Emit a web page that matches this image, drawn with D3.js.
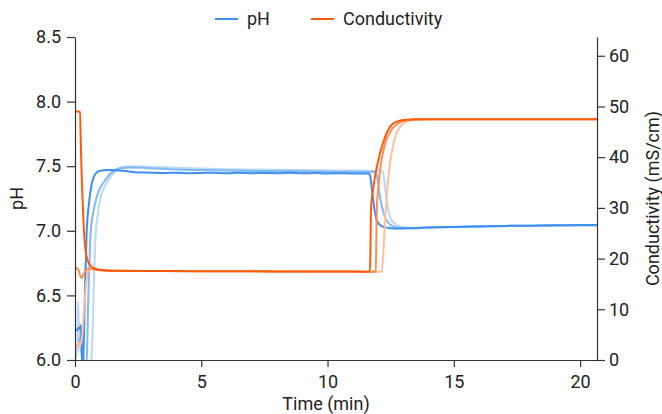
<!DOCTYPE html>
<html>
<head>
<meta charset="utf-8">
<script src="https://cdn.jsdelivr.net/npm/d3@7"></script>
<style>
  html, body { margin: 0; padding: 0; background: #fff; }
  svg { display: block; font-family: Roboto, "Noto Sans", sans-serif; }
</style>
</head>
<body>
<svg id="chart" width="662" height="414"></svg>
<script>
// Tick values for the three axes
const timeTicks = [0, 5, 10, 15, 20];
const phTicks = [6.0, 6.5, 7.0, 7.5, 8.0, 8.5];
const condTicks = [0, 10, 20, 30, 40, 50, 60];

// pH traces, three runs: [time (min), pH]
const phRun1 = [
  [0, 6.24], [0.08, 6.23], [0.14, 6.25], [0.2, 6.24], [0.23, 6.27], [0.26, 6.12], [0.3, 5.9],
  [0.33, 6.0], [0.39, 6.5], [0.46, 6.98], [0.57, 7.24], [0.66, 7.36], [0.75, 7.42], [0.85, 7.45],
  [1.0, 7.465], [1.3, 7.47], [1.6, 7.468], [2.0, 7.462], [2.5, 7.452], [3, 7.45], [3.5, 7.447],
  [4, 7.45], [4.5, 7.446], [5, 7.447], [5.5, 7.45], [6, 7.446], [6.5, 7.449], [7, 7.445], [7.5, 7.448],
  [8, 7.446], [8.5, 7.449], [9, 7.445], [9.5, 7.447], [10, 7.444], [10.5, 7.446], [11, 7.443], [11.6, 7.443],
  [11.68, 7.43], [11.75, 7.33], [11.82, 7.22], [11.88, 7.14], [11.95, 7.08], [12.08, 7.045],
  [12.21, 7.03], [12.5, 7.02], [12.8, 7.018], [13.2, 7.02], [13.7, 7.024], [14.2, 7.028], [15, 7.03],
  [16, 7.034], [17, 7.038], [18, 7.04], [19, 7.042], [20, 7.044], [20.7, 7.044]
];
const phRun2 = [
  [0, 6.08], [0.08, 6.1], [0.14, 6.13], [0.2, 6.17], [0.26, 6.2], [0.3, 6.1], [0.35, 5.9],
  [0.46, 6.0], [0.53, 6.5], [0.62, 6.98], [0.72, 7.14], [0.83, 7.24], [0.97, 7.32], [1.12, 7.37],
  [1.3, 7.42], [1.5, 7.46], [1.78, 7.485], [2.2, 7.49], [2.7, 7.488], [3.2, 7.482], [4, 7.475],
  [5, 7.47], [6, 7.466], [7, 7.463], [8, 7.462], [9, 7.46], [10, 7.458], [11, 7.457], [11.9, 7.456],
  [11.95, 7.43], [12.05, 7.3], [12.15, 7.19], [12.25, 7.12], [12.34, 7.08], [12.5, 7.045],
  [12.67, 7.03], [12.9, 7.022], [13.3, 7.02], [14, 7.024], [15, 7.03], [16, 7.035], [17, 7.038],
  [18, 7.04], [19, 7.042], [20, 7.043], [20.7, 7.043]
];
const phRun3 = [
  [0, 6.0], [0.06, 6.04], [0.1, 6.08], [0.12, 6.45], [0.15, 6.3], [0.18, 6.12], [0.25, 6.05],
  [0.35, 5.95], [0.5, 5.85], [0.6, 5.9], [0.71, 6.3], [0.75, 6.6], [0.82, 6.98], [0.9, 7.12],
  [0.99, 7.24], [1.15, 7.33], [1.31, 7.39], [1.5, 7.44], [1.7, 7.48], [1.9, 7.496], [2.4, 7.5],
  [3, 7.495], [4, 7.488], [5, 7.482], [6, 7.477], [7, 7.474], [8, 7.472], [9, 7.47], [10, 7.468],
  [11, 7.466], [12.15, 7.465], [12.21, 7.44], [12.3, 7.3], [12.38, 7.19], [12.46, 7.12],
  [12.54, 7.08], [12.7, 7.05], [12.94, 7.03], [13.3, 7.022], [14, 7.024], [15, 7.028], [16, 7.032],
  [17, 7.036], [18, 7.038], [19, 7.04], [20, 7.041], [20.7, 7.041]
];

// Conductivity traces, three runs: [time (min), mS/cm]
const condRun1 = [
  [0, 49.0], [0.2, 49.0], [0.22, 44.8], [0.26, 37], [0.3, 31.6], [0.36, 25], [0.46, 20.4],
  [0.56, 19.0], [0.66, 18.4], [0.8, 18.0], [0.99, 17.75], [1.5, 17.6], [3, 17.55], [5, 17.5],
  [7, 17.5], [9, 17.45], [11, 17.45], [11.68, 17.4], [11.7, 22], [11.72, 29.6], [11.8, 33.5],
  [11.88, 36.2], [12.08, 40.8], [12.28, 44.0], [12.54, 46.4], [12.75, 47.0], [12.94, 47.3],
  [13.3, 47.45], [14, 47.5], [16, 47.5], [18, 47.5], [20, 47.5], [20.7, 47.5]
];
const condRun2 = [
  [0, 18.0], [0.08, 18.1], [0.14, 17.7], [0.2, 16.8], [0.26, 16.1], [0.32, 16.6], [0.4, 17.5],
  [0.52, 18.0], [0.7, 17.9], [1.0, 17.7], [1.5, 17.6], [3, 17.55], [5, 17.5], [7, 17.5], [9, 17.45],
  [11, 17.45], [11.91, 17.4], [11.93, 23], [11.95, 29.6], [12.0, 33.5], [12.08, 37.5],
  [12.28, 42.7], [12.54, 45.4], [12.94, 47.0], [13.47, 47.5], [14, 47.5], [16, 47.5], [18, 47.5],
  [20, 47.5], [20.7, 47.5]
];
const condRun3 = [
  [0, 1.5], [0.08, 2.5], [0.14, 3.5], [0.2, 2.8], [0.28, 4.5], [0.36, 10], [0.44, 15],
  [0.52, 17.4], [0.62, 18.0], [0.8, 18.0], [1.1, 17.7], [1.5, 17.6], [3, 17.55], [5, 17.5],
  [7, 17.5], [9, 17.45], [11, 17.45], [12.15, 17.4], [12.2, 20.5], [12.28, 27.6], [12.41, 36.2],
  [12.61, 42.7], [12.94, 46.4], [13.2, 47.1], [13.47, 47.35], [14, 47.5], [16, 47.5], [18, 47.5],
  [20, 47.5], [20.7, 47.5]
];

const phSeries = [
  { data: phRun3, color: "#b9d8fa" },
  { data: phRun2, color: "#80b9f6" },
  { data: phRun1, color: "#3f8ff0" }
];
const condSeries = [
  { data: condRun3, color: "#ffbf9e" },
  { data: condRun2, color: "#ff8c55" },
  { data: condRun1, color: "#ff5a0a" }
];

const svg = d3.select("#chart");
const margin = { left: 75, right: 65, top: 37, bottom: 54 };
const W = 662, H = 414;
const x0 = margin.left, x1 = W - margin.right;
const y0 = H - margin.bottom, y1 = margin.top;
const fontSize = "18px";

const x = d3.scaleLinear().domain([0, 20.67]).range([x0, x1]);
const yPH = d3.scaleLinear().domain([6.0, 8.5]).range([y0, y1]);
const yCond = d3.scaleLinear().domain([0, 63.7]).range([y0, y1]);

svg.append("defs").append("clipPath").attr("id", "plot")
  .append("rect").attr("x", x0).attr("y", y1).attr("width", x1 - x0).attr("height", y0 - y1);

const plot = svg.append("g").attr("clip-path", "url(#plot)");

const phLine = d3.line().x(d => x(d[0])).y(d => yPH(d[1])).curve(d3.curveMonotoneX);
const condLine = d3.line().x(d => x(d[0])).y(d => yCond(d[1])).curve(d3.curveMonotoneX);

phSeries.forEach(s => {
  plot.append("path").attr("d", phLine(s.data))
    .attr("fill", "none").attr("stroke", s.color).attr("stroke-width", 2)
    .attr("stroke-linejoin", "round");
});
condSeries.forEach(s => {
  plot.append("path").attr("d", condLine(s.data))
    .attr("fill", "none").attr("stroke", s.color).attr("stroke-width", 2)
    .attr("stroke-linejoin", "round");
});

// Axes
const axisColor = "#333";
const textColor = "#222";
function styleAxis(g) {
  g.selectAll("path, line").attr("stroke", axisColor).attr("stroke-width", 1.2);
  g.selectAll("text").attr("fill", textColor).style("font-size", fontSize)
    .style("font-family", "Roboto, 'Noto Sans', sans-serif");
}

svg.append("g").attr("transform", `translate(0,${y0})`)
  .call(d3.axisBottom(x).tickValues(timeTicks).tickSize(7).tickPadding(8).tickSizeOuter(0))
  .call(styleAxis);

svg.append("g").attr("transform", `translate(${x0},0)`)
  .call(d3.axisLeft(yPH).tickValues(phTicks).tickFormat(d3.format(".1f")).tickSize(8).tickPadding(6).tickSizeOuter(0))
  .call(styleAxis);

svg.append("g").attr("transform", `translate(${x1},0)`)
  .call(d3.axisRight(yCond).tickValues(condTicks).tickSize(8).tickPadding(4).tickSizeOuter(0))
  .call(styleAxis);

// Axis titles
svg.append("text").attr("x", 326).attr("y", 410).attr("text-anchor", "middle")
  .attr("fill", textColor).style("font-size", fontSize).text("Time (min)");
svg.append("text").attr("transform", `translate(23,${(y0 + y1) / 2}) rotate(-90)`)
  .attr("text-anchor", "middle").attr("fill", textColor).style("font-size", fontSize).text("pH");
svg.append("text").attr("transform", `translate(659,${(y0 + y1) / 2}) rotate(-90)`)
  .attr("text-anchor", "middle").attr("fill", textColor).style("font-size", fontSize)
  .text("Conductivity (mS/cm)");

// Legend
const legendItems = [
  { label: "pH", color: "#3f8ff0", x: 215 },
  { label: "Conductivity", color: "#ff5a0a", x: 311 }
];
const legend = svg.append("g");
legendItems.forEach(item => {
  legend.append("line").attr("x1", item.x).attr("x2", item.x + 23)
    .attr("y1", 19).attr("y2", 19).attr("stroke", item.color).attr("stroke-width", 2);
  legend.append("text").attr("x", item.x + 32).attr("y", 25)
    .attr("fill", textColor).style("font-size", fontSize).text(item.label);
});
</script>
</body>
</html>
